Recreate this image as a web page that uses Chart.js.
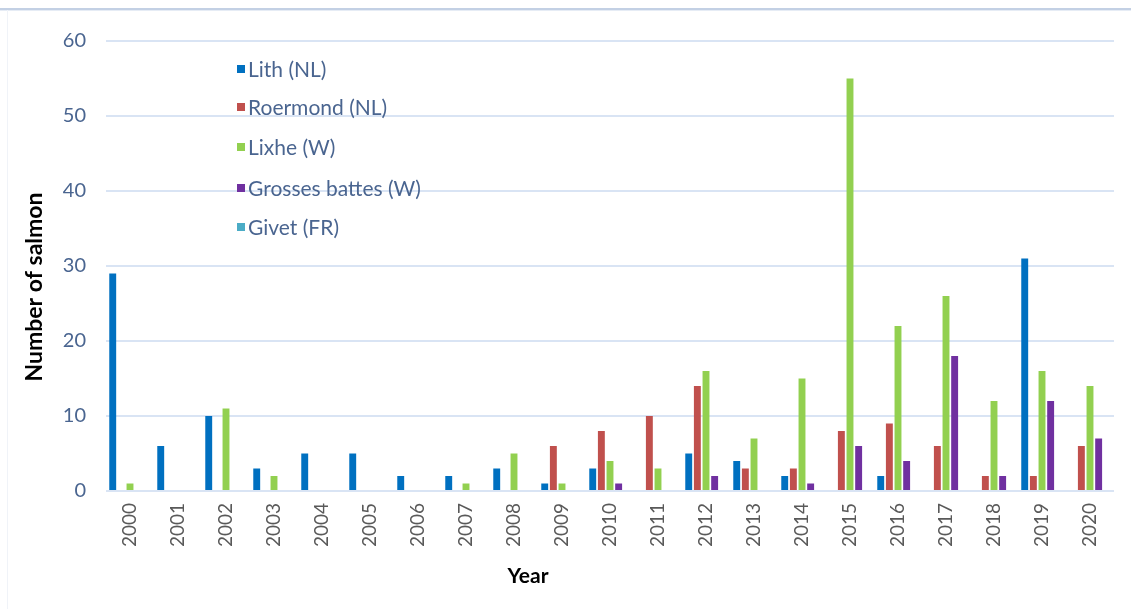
<!DOCTYPE html>
<html><head><meta charset="utf-8">
<script src="https://cdn.jsdelivr.net/npm/chart.js@4/dist/chart.umd.min.js"></script>
<style>
html,body{margin:0;padding:0;background:#fff;}
canvas{display:block;}
</style></head>
<body><canvas id="c" width="1131" height="609"></canvas>
<script>
const years = ['2000','2001','2002','2003','2004','2005','2006','2007','2008','2009','2010','2011','2012','2013','2014','2015','2016','2017','2018','2019','2020'];
const lith      = [29,6,10,3,5,5,2,2,3,1,3,0,5,4,2,0,2,0,0,31,0];
const roermond  = [0,0,0,0,0,0,0,0,0,6,8,10,14,3,3,8,9,6,2,2,6];
const lixhe     = [1,0,11,2,0,0,0,1,5,1,4,3,16,7,15,55,22,26,12,16,14];
const grosses   = [0,0,0,0,0,0,0,0,0,0,1,0,2,0,1,6,4,18,2,12,7];
const givet     = [0,0,0,0,0,0,0,0,0,0,0,0,0,0,0,0,0,0,0,0,0];
const yTicks = [0,10,20,30,40,50,60];
const xTitle = 'Year';
const yTitle = 'Number of salmon';

const decorPlugin = {
  id:'decor',
  beforeDraw(chart){
    const ctx = chart.ctx;
    ctx.save();
    ctx.fillStyle = '#fff';
    ctx.fillRect(0,0,chart.width,chart.height);
    ctx.fillStyle = '#c3d0e4';
    ctx.fillRect(0,8,chart.width,2);
    ctx.fillStyle = '#e6ecf5';
    ctx.fillRect(0,10,chart.width,1);
    ctx.fillStyle = '#f0f3f8';
    ctx.fillRect(7,10,1,chart.height-10);
    ctx.restore();
  },
  afterDraw(chart){
    const ctx = chart.ctx;
    const ys = [69,107,147,188,227];
    ctx.save();
    ctx.font = '21px Lato';
    ctx.textBaseline = 'middle';
    chart.data.datasets.forEach((ds,i)=>{
      ctx.fillStyle = ds.backgroundColor;
      ctx.fillRect(237, ys[i]-4, 8, 8);
      ctx.fillStyle = '#4A6590';
      ctx.fillText(ds.label, 248, ys[i]+1);
    });
    // axis titles
    ctx.fillStyle = '#000';
    ctx.textAlign = 'center';
    ctx.font = 'bold 21px Lato';
    ctx.fillText(xTitle, 528, 576);
    ctx.translate(35, 287);
    ctx.rotate(-Math.PI/2);
    ctx.font = 'bold 23px Lato';
    ctx.fillText(yTitle, 0, 0);
    ctx.restore();
  }
};

new Chart(document.getElementById('c'), {
  type:'bar',
  data:{
    labels: years,
    datasets:[
      {label:'Lith (NL)', data:lith, backgroundColor:'#0070C0'},
      {label:'Roermond (NL)', data:roermond, backgroundColor:'#C0504D'},
      {label:'Lixhe (W)', data:lixhe, backgroundColor:'#92D050'},
      {label:'Grosses battes (W)', data:grosses, backgroundColor:'#7030A0'},
      {label:'Givet (FR)', data:givet, backgroundColor:'#4BACC6'}
    ]
  },
  options:{
    responsive:false,
    animation:false,
    datasets:{bar:{categoryPercentage:0.9, barPercentage:0.8}},
    layout:{padding:{left:18, right:17, top:41, bottom:18}},
    plugins:{legend:{display:false}, tooltip:{enabled:false}},
    scales:{
      x:{
        grid:{display:false},
        border:{display:false},
        ticks:{minRotation:90, maxRotation:90, autoSkip:false, color:'#595959', font:{family:'Lato', size:19}, padding:4},
        afterFit(s){ s.height = 100; }
      },
      y:{
        min:0, max:60,
        afterBuildTicks(s){ s.ticks = yTicks.map(v=>({value:v})); },
        grid:{color:'#D9E4F4', lineWidth:2, drawTicks:false},
        border:{display:false},
        ticks:{color:'#4A6590', font:{family:'Lato', size:20}, padding:20},
        afterFit(s){ s.width = 88; }
      }
    }
  },
  plugins:[decorPlugin]
});
</script></body></html>
